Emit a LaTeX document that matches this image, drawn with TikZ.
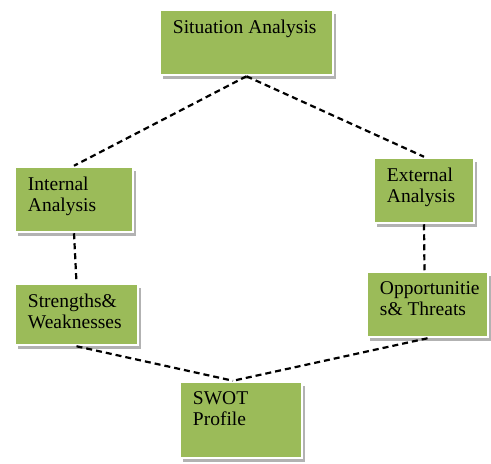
\documentclass[tikz,border=0pt]{standalone}
\usepackage{fontspec}
\setmainfont{Liberation Serif}
\usetikzlibrary{shadows}
\definecolor{boxgreen}{RGB}{155,187,89}
\begin{document}
\begin{tikzpicture}[x=1pt,y=-1pt]
	\tikzstyle{Box} = [rectangle, inner sep=0pt, fill=boxgreen, draw=white, line width=2.5pt, drop shadow={shadow xshift=3pt, shadow yshift=-4pt, fill=black!30, opacity=1}]
	\tikzstyle{Txt} = [anchor=north west, inner sep=0pt, align=left, font=\fontsize{19.5}{21}\selectfont, xshift=14pt, yshift=-11pt]
	\tikzstyle{link} = [line width=2.2pt, dash pattern=on 6pt off 4pt]

	\useasboundingbox (0,0) rectangle (491,464);
	\node (sit) [Box, minimum width=173pt, minimum height=65pt, label={[Txt]north west:Situation Analysis}] at (246.5,42.5) {};
	\node (int) [Box, minimum width=118pt, minimum height=65pt, label={[Txt]north west:Internal\\Analysis}] at (74,199.5) {};
	\node (ext) [Box, minimum width=100pt, minimum height=65pt, label={[Txt]north west:External\\Analysis}] at (424,190.5) {};
	\node (str) [Box, minimum width=123pt, minimum height=61pt, label={[Txt]north west:Strengths\&\\Weaknesses}] at (76.5,314.5) {};
	\node (opp) [Box, minimum width=121pt, minimum height=65pt, label={[Txt]north west:Opportunitie\\s\& Threats}] at (427.5,304.5) {};
	\node (swot) [Box, minimum width=122pt, minimum height=76pt, label={[Txt]north west:SWOT\\Profile}] at (241,420) {};

	\draw [link] (sit.south) -- (int.north);
	\draw [link] (sit.south) -- (ext.north);
	\draw [link] (int.south) -- (str.north);
	\draw [link] (ext.south) -- ([xshift=-3pt]opp.north);
	\draw [link] (str.south) -- ([xshift=-8pt]swot.north);
	\draw [link] (opp.south) -- ([xshift=-8pt]swot.north);
\end{tikzpicture}
\end{document}
